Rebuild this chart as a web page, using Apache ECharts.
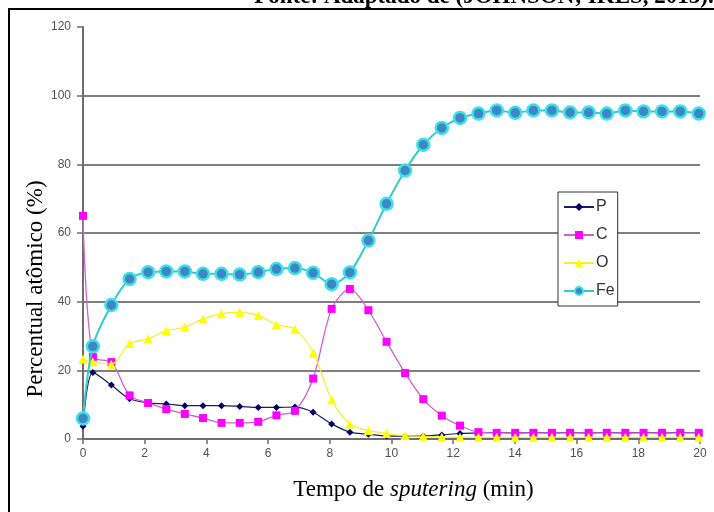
<!DOCTYPE html>
<html>
<head>
<meta charset="utf-8">
<script src="https://cdn.jsdelivr.net/npm/echarts@6/dist/echarts.min.js"></script>
<style>
  html, body { margin: 0; padding: 0; background: #ffffff; }
  #chart { width: 714px; height: 512px; }
</style>
</head>
<body>
<div id="chart"></div>
<script>
// Sputtering time (min) of each depth-profile acquisition
const time = [0, 0.32, 0.92, 1.51, 2.11, 2.70, 3.30, 3.89, 4.49, 5.08, 5.68, 6.27, 6.87, 7.46, 8.06, 8.65, 9.25, 9.84, 10.44, 11.03, 11.63, 12.22, 12.82, 13.41, 14.01, 14.60, 15.20, 15.79, 16.39, 16.98, 17.58, 18.17, 18.77, 19.36, 19.96];

// Atomic percentage of each element
const P  = [3.7, 19.4, 15.7, 11.7, 10.5, 10.2, 9.7, 9.7, 9.7, 9.5, 9.2, 9.2, 9.3, 7.8, 4.4, 2.0, 1.4, 0.9, 0.8, 0.9, 1.2, 1.6, 1.8, 1.9, 1.8, 1.9, 1.8, 1.9, 1.8, 1.9, 1.8, 1.9, 1.8, 1.9, 1.8];
const C  = [65, 23.9, 22.4, 12.7, 10.5, 8.7, 7.3, 6.1, 4.7, 4.7, 5.0, 6.9, 8.2, 17.6, 37.9, 43.7, 37.5, 28.3, 19.2, 11.6, 6.8, 3.9, 2.0, 1.8, 1.8, 1.8, 1.8, 1.8, 1.8, 1.8, 1.8, 1.8, 1.8, 1.8, 1.8];
const O  = [23.3, 22.5, 21.8, 27.8, 29.2, 31.5, 32.6, 35.0, 36.5, 36.9, 36.0, 33.3, 32.0, 25.2, 11.4, 4.4, 2.5, 1.6, 1.0, 0.8, 0.6, 0.5, 0.5, 0.5, 0.5, 0.5, 0.5, 0.5, 0.5, 0.5, 0.5, 0.5, 0.5, 0.5, 0.5];
const Fe = [6, 27, 39, 46.6, 48.6, 48.8, 48.8, 48.1, 48.1, 47.9, 48.6, 49.5, 49.8, 48.4, 45.1, 48.5, 57.8, 68.5, 78.2, 85.7, 90.6, 93.5, 94.8, 95.7, 95.0, 95.7, 95.7, 95.1, 95.1, 94.8, 95.7, 95.4, 95.4, 95.4, 94.8];

const xTicks = [0, 2, 4, 6, 8, 10, 12, 14, 16, 18, 20];
const yTicks = [0, 20, 40, 60, 80, 100, 120];

const sourceText = 'Fonte: Adaptado de (JOHNSON; IKES, 2015).';
const yName = 'Percentual atômico (%)';

const pairs = arr => time.map((t, i) => [t, arr[i]]);

const chart = echarts.init(document.getElementById('chart'), null, { renderer: 'canvas' });

const tickLabel = { color: '#505050', fontFamily: 'Liberation Sans, Arial, sans-serif', fontSize: 12 };
const serif = 'Liberation Serif, Times New Roman, serif';

chart.setOption({
  animation: false,
  backgroundColor: '#ffffff',
  graphic: [
    {
      type: 'rect',
      shape: { x: 9, y: 9, width: 720, height: 520 },
      style: { fill: 'none', stroke: '#000000', lineWidth: 2 },
      z: 0
    },
    {
      type: 'text',
      x: 484,
      y: 9,
      style: {
        text: sourceText,
        align: 'center',
        verticalAlign: 'bottom',
        font: 'bold 23px "Liberation Serif", "Times New Roman", serif',
        fill: '#000000'
      }
    }
  ],
  grid: { left: 83, right: 14, top: 27, bottom: 73, containLabel: false },
  legend: {
    orient: 'vertical',
    left: 558,
    top: 192,
    width: 60,
    padding: [7, 3, 7, 5],
    itemGap: 12,
    itemWidth: 30,
    itemHeight: 10,
    backgroundColor: '#ffffff',
    borderColor: '#333333',
    borderWidth: 1,
    borderRadius: 0,
    textStyle: { color: '#333333', fontFamily: 'Liberation Sans, Arial, sans-serif', fontSize: 16, padding: [0, 0, 0, -3] },
    data: ['P', 'C', 'O', 'Fe']
  },
  xAxis: {
    type: 'value',
    min: xTicks[0],
    max: xTicks[xTicks.length - 1],
    interval: xTicks[1] - xTicks[0],
    name: '{r|Tempo de }{i|sputering}{r| (min)}',
    nameLocation: 'middle',
    nameGap: 39,
    nameMoveOverlap: false,
    nameTextStyle: {
      padding: [0, 0, 0, 44],
      rich: {
        r: { fontFamily: serif, fontSize: 23, color: '#000000' },
        i: { fontFamily: serif, fontSize: 23, fontStyle: 'italic', color: '#000000' }
      }
    },
    axisLine: { show: true, onZero: false, lineStyle: { color: '#6e6e6e', width: 2 } },
    axisTick: { show: true, inside: false, length: 5, lineStyle: { color: '#6e6e6e', width: 1.5 } },
    axisLabel: Object.assign({ margin: 9 }, tickLabel),
    splitLine: { show: false }
  },
  yAxis: {
    type: 'value',
    min: yTicks[0],
    max: yTicks[yTicks.length - 1],
    interval: yTicks[1] - yTicks[0],
    name: yName,
    nameLocation: 'middle',
    nameGap: 36,
    nameMoveOverlap: false,
    nameTextStyle: { fontFamily: serif, fontSize: 23, color: '#000000', padding: [0, 112, 0, 0] },
    axisLine: { show: true, lineStyle: { color: '#6e6e6e', width: 2 } },
    axisTick: { show: true, inside: false, length: 6, lineStyle: { color: '#6e6e6e', width: 1.5 } },
    axisLabel: Object.assign({ margin: 12 }, tickLabel),
    splitLine: { show: true, showMinLine: false, showMaxLine: false, lineStyle: { color: '#7f7f7f', width: 2 } }
  },
  series: [
    {
      name: 'P', type: 'line', data: pairs(P), smooth: 0.3,
      symbol: 'diamond', symbolSize: 7,
      itemStyle: { color: '#000066' },
      lineStyle: { color: '#1a1a6e', width: 1.2 },
      z: 2
    },
    {
      name: 'C', type: 'line', data: pairs(C), smooth: 0.3,
      symbol: 'rect', symbolSize: 8,
      itemStyle: { color: '#ff00ff' },
      lineStyle: { color: '#d060d0', width: 1.3 },
      z: 3
    },
    {
      name: 'O', type: 'line', data: pairs(O), smooth: 0.3,
      symbol: 'triangle', symbolSize: 9,
      itemStyle: { color: '#ffff00' },
      lineStyle: { color: '#f2f030', width: 1.2 },
      z: 4
    },
    {
      name: 'Fe', type: 'line', data: pairs(Fe), smooth: 0.3,
      symbol: 'circle', symbolSize: 12,
      itemStyle: { color: '#3f86c4', borderColor: '#3ee0e8', borderWidth: 2.5 },
      lineStyle: { color: '#33cccc', width: 2 },
      z: 5
    }
  ]
});
</script>
</body>
</html>
